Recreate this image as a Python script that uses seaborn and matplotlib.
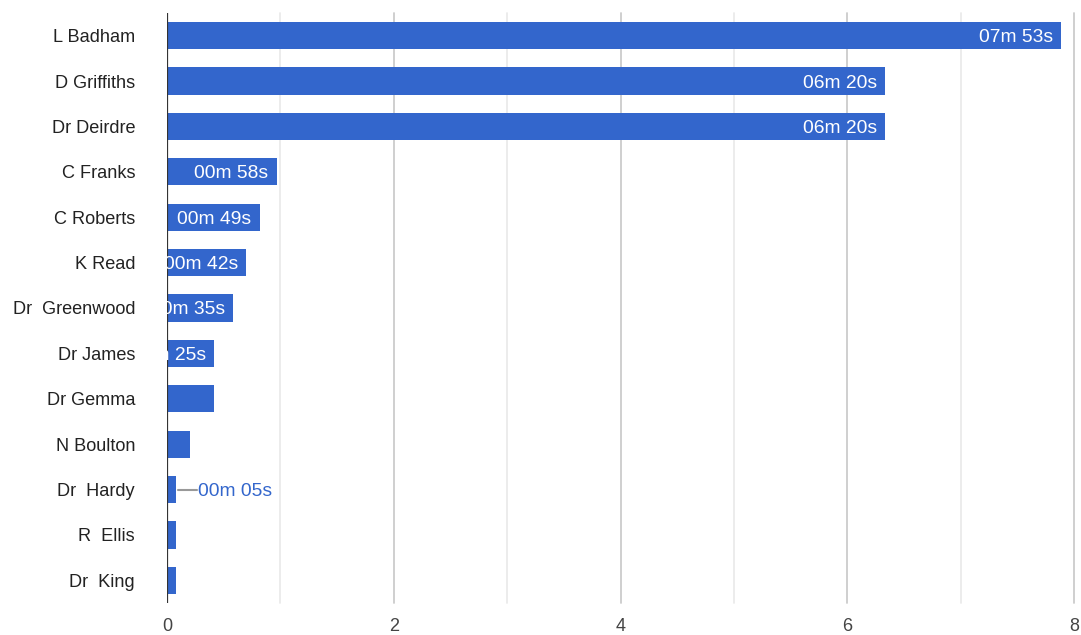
import matplotlib
matplotlib.use("Agg")
import matplotlib.pyplot as plt
import seaborn as sns
import pandas as pd

# Time spent per person, in seconds
names = ["L Badham", "D Griffiths", "Dr Deirdre", "C Franks", "C Roberts", "K Read",
         "Dr  Greenwood", "Dr James", "Dr Gemma", "N Boulton", "Dr  Hardy", "R  Ellis", "Dr  King"]
seconds = [473, 380, 380, 58, 49, 42, 35, 25, 25, 12, 5, 5, 5]
# Which bars carry a value label ("in" = inside the bar, "out" = beside it with a leader line)
label_mode = ["in", "in", "in", "in", "in", "in", "in", "in", None, None, "out", None, None]
x_ticks = [0, 2, 4, 6, 8]

BLUE = "#3366cc"

df = pd.DataFrame({"name": names, "minutes": [s / 60 for s in seconds]})

sns.set_theme(style="white")
plt.rcParams["font.family"] = ["Liberation Sans", "DejaVu Sans"]

fig = plt.figure(figsize=(10.81, 6.35), dpi=100)
ax = fig.add_axes([167 / 1081, 1 - 603 / 635, (1074 - 167) / 1081, (603 - 13) / 635])

sns.barplot(data=df, x="minutes", y="name", orient="h", color=BLUE, saturation=1,
            width=0.6, linewidth=0, ax=ax, zorder=3)

ax.set_xlim(0, 8)
ax.set_ylim(len(names) - 0.5, -0.5)

# Grid: major lines at even minutes, lighter minor lines in between
for x in range(1, 9):
    ax.axvline(x, color="#cccccc" if x % 2 == 0 else "#ebebeb", lw=1.3, zorder=1,
               clip_on=False)
ax.axvline(0, color="#333333", lw=1.6, zorder=5)

for s in ax.spines.values():
    s.set_visible(False)

ax.set_xticks(x_ticks)
ax.set_xticklabels([str(t) for t in x_ticks])
ax.tick_params(axis="x", length=0, pad=11, labelsize=13, labelcolor="#444444")
ax.tick_params(axis="y", length=0, pad=23, labelsize=13.1, labelcolor="#222222")
for lab in ax.get_yticklabels():
    lab.set_verticalalignment("center_baseline")
ax.set_xlabel("")
ax.set_ylabel("")

def fmt(sec):
    return f"{sec // 60:02d}m {sec % 60:02d}s"

px = 8 / 113.4  # 8 pixels expressed in data units
for i, (sec, mode) in enumerate(zip(seconds, label_mode)):
    v = sec / 60
    if mode == "in":
        ax.text(v - px, i, fmt(sec), ha="right", va="center_baseline", color="white",
                fontsize=13.9, zorder=6, clip_on=True)
    elif mode == "out":
        ax.plot([v + 0.01, v + 2.6 * px], [i, i], color="#999999", lw=1.5, zorder=4)
        ax.text(v + 2.75 * px, i, fmt(sec), ha="left", va="center_baseline", color=BLUE,
                fontsize=13.9, zorder=6)

fig.savefig("out.png", dpi=100, facecolor="white")
